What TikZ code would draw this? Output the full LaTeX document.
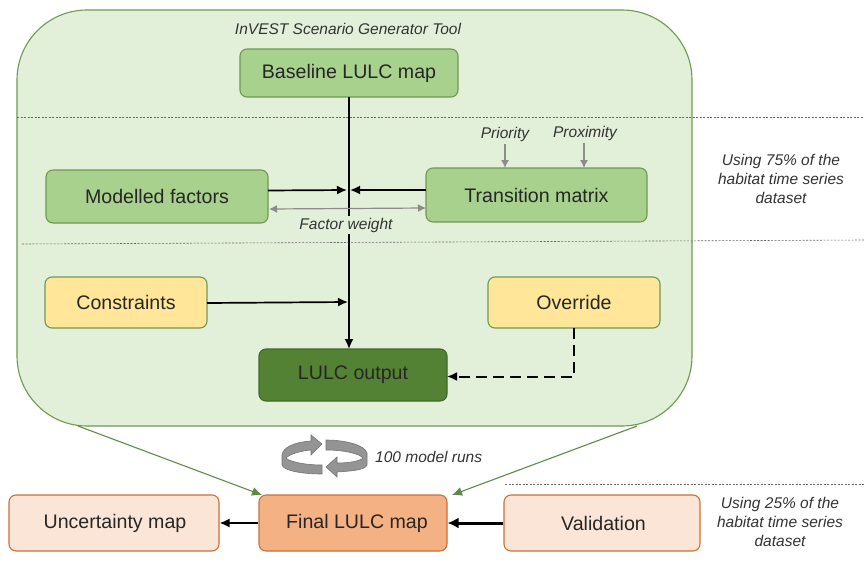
\documentclass[tikz,border=0pt]{standalone}
\usepackage{fontspec}
\setmainfont{Liberation Sans}
\usetikzlibrary{arrows.meta}
\definecolor{panelfill}{HTML}{E2EFD9}
\definecolor{paneledge}{HTML}{6F9A52}
\definecolor{greenfill}{HTML}{A9D18E}
\definecolor{greenedge}{HTML}{6F9A52}
\definecolor{yellowfill}{HTML}{FFE699}
\definecolor{darkfill}{HTML}{548235}
\definecolor{darkedge}{HTML}{3F6B28}
\definecolor{orangefill}{HTML}{F4B183}
\definecolor{orangeedge}{HTML}{C8703A}
\definecolor{paleorange}{HTML}{FBE5D6}
\definecolor{arrowgreen}{HTML}{5F8A45}
\tikzset{
  x=1pt,y=-1pt,
  box/.style={draw,line width=1.1pt,rounded corners=7pt,align=center,inner sep=0pt,font=\fontsize{19.6}{22}\selectfont,text=black!85},
  greenbox/.style={box,fill=greenfill,draw=greenedge},
  yellowbox/.style={box,fill=yellowfill,draw=greenedge},
  darkbox/.style={box,fill=darkfill,draw=darkedge},
  finalbox/.style={box,fill=orangefill,draw=orangeedge},
  palebox/.style={box,fill=paleorange,draw=orangeedge},
  note/.style={font=\itshape\fontsize{15.5}{19}\selectfont,text=black!80,align=center,inner sep=0pt},
  flow/.style={black,line width=1.7pt,-{Latex[length=10pt,width=9pt]}},
  greyflow/.style={black!45,line width=1.2pt,-{Latex[length=8pt,width=8pt]}},
  greenflow/.style={arrowgreen,line width=1.1pt,-{Latex[length=10pt,width=9pt]}},
  sep/.style={black!60,line width=0.6pt,dash pattern=on 2pt off 1.5pt},
  turn/.style={fill=black!42,draw=black!55,line width=0.6pt},
}
\begin{document}
\begin{tikzpicture}
\useasboundingbox (0,0) rectangle (864,562);
\node[draw=paneledge,fill=panelfill,line width=1.1pt,rounded corners=70pt,minimum width=675pt,minimum height=416pt,inner sep=0pt] (panel) at (354.5,218) {};

\draw[sep] (17,117) -- (864,117);
\draw[sep] (22,244) -- (864,240);
\draw[sep] (505,484) -- (864,484);

\node[greenbox,minimum width=218pt,minimum height=48pt] (base) at (349,73) {\raisebox{-1pt}{Baseline LULC map}};
\node[greenbox,minimum width=222pt,minimum height=53pt] (factors) at (157,196.5) {Modelled factors};
\node[greenbox,minimum width=221pt,minimum height=54pt] (matrix) at (536.5,195) {Transition matrix};
\node[yellowbox,minimum width=162pt,minimum height=51pt] (constraints) at (126,302.5) {Constraints};
\node[yellowbox,minimum width=172pt,minimum height=51pt] (override) at (574,302.5) {Override};
\node[darkbox,minimum width=188pt,minimum height=52pt] (output) at (353,375) {\raisebox{-2pt}{LULC output}};
\node[palebox,minimum width=210pt,minimum height=56pt] (uncert) at (114,523) {\hspace*{2pt}Uncertainty map};
\node[finalbox,minimum width=188pt,minimum height=56pt] (final) at (353,523) {\hspace*{8pt}Final LULC map};
\node[palebox,minimum width=196pt,minimum height=56pt] (valid) at (602,523) {\hspace*{3pt}Validation};

\coordinate (baseout) at (349,97);
\coordinate (outin) at (349,349);
\coordinate (joinL) at (347,190);
\coordinate (joinR) at (350,190);
\coordinate (joinC) at (348,302);
\draw[flow] (baseout) -- (outin);
\draw[flow] (268,190.5) -- (joinL);
\draw[flow] (426,190) -- (joinR);
\draw[flow] (207,303) -- (joinC);
\draw[flow,line width=2pt,dash pattern=on 11pt off 6pt] (574,328) -- (574,376.5) -- (447,376.5);
\draw[greyflow,{Latex[length=8pt,width=8pt]}-{Latex[length=8pt,width=8pt]}] (269,209) -- (426,208);

\node[note,fill=panelfill,inner xsep=2pt,inner ysep=2pt] (weight) at (346,225) {Factor weight};
\node[note] (title) at (348,29) {InVEST Scenario Generator Tool};
\node[note] (priority) at (505,134) {Priority};
\node[note] (proximity) at (585,133) {Proximity};
\draw[greyflow] (505,144) -- (505,168);
\draw[greyflow] (584,143) -- (584,168);

\node[note] (train) at (781,179) {Using 75\% of the\\habitat time series\\dataset};
\node[note] (test) at (780,522) {Using 25\% of the\\habitat time series\\dataset};
\node[note,anchor=west] (runs) at (375,457) {100 model runs};

\coordinate (panelL) at (78,426);
\coordinate (panelR) at (637,426);
\draw[greenflow] (panelL) -- (262,495);
\draw[greenflow] (panelR) -- (452,495);
\draw[flow] (final) -- (uncert);
\draw[black,line width=3pt,-{Latex[length=11pt,width=11pt]}] (valid) -- (final);

\fill[turn] (322,444) -- (311,435) -- (311,441) .. controls (295,442) and (283,447) .. (282,455)
  -- (282,465) .. controls (284,471) and (303,474) .. (322,474) -- (322,465)
  .. controls (303,465) and (288,461) .. (286,458) .. controls (290,454) and (300,451) .. (311,450) -- (311,455) -- cycle;
\fill[turn] (326,467) -- (337,477) -- (337,472) .. controls (352,471) and (365,470) .. (367,465)
  -- (367,453) .. controls (365,445) and (345,440) .. (326,440) -- (326,450)
  .. controls (345,450) and (360,454) .. (363,458) .. controls (360,461) and (350,463) .. (337,463) -- (337,457) -- cycle;
\end{tikzpicture}
\end{document}
